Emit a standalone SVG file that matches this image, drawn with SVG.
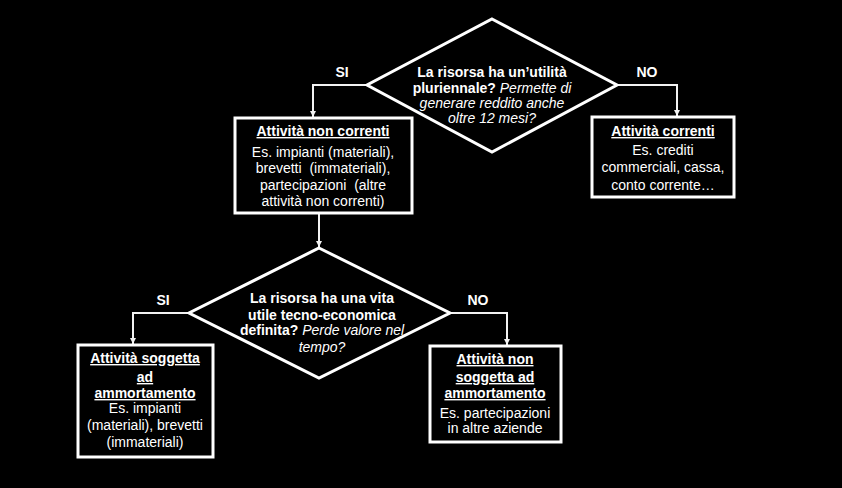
<svg xmlns="http://www.w3.org/2000/svg" width="842" height="488" viewBox="0 0 842 488">
<defs>
<style>
text{font-family:"Liberation Sans",Arial,sans-serif;font-size:14px;fill:#fff;text-anchor:middle;white-space:pre}
.b{font-weight:bold}
.i{font-style:italic}
.u{font-weight:bold;text-decoration:underline}
.shape{fill:#000;stroke:#fff;stroke-width:3}
.conn{fill:none;stroke:#f2f2f2;stroke-width:2}
</style>
<marker id="arr" viewBox="0 0 10 10" refX="10" refY="5" markerWidth="6" markerHeight="6" markerUnits="userSpaceOnUse" orient="auto">
<path d="M0,0 L10,5 L0,10 z" fill="#f2f2f2"/>
</marker>
</defs>
<rect width="842" height="488" fill="#000"/>
<g id="connectors">
<polyline class="conn" points="367,85 313,85 313,117" marker-end="url(#arr)"/>
<polyline class="conn" points="617,85 677,85 677,116" marker-end="url(#arr)"/>
<polyline class="conn" points="319,214 319,247" marker-end="url(#arr)"/>
<polyline class="conn" points="189,313 133,313 133,344" marker-end="url(#arr)"/>
<polyline class="conn" points="450,313 507,313 507,345" marker-end="url(#arr)"/>
<text class="b" x="342" y="77">SI</text>
<text class="b" x="647" y="77">NO</text>
<text class="b" x="163" y="305">SI</text>
<text class="b" x="478" y="305">NO</text>
</g>
<g id="q1">
<polygon class="shape" points="492,19 617,85 492,152 367,85"/>
<text x="492" y="77" class="b">La risorsa ha un’utilità</text>
<text x="492" y="93"><tspan class="b">pluriennale?</tspan><tspan class="i"> Permette di</tspan></text>
<text x="492" y="108" class="i">generare reddito anche</text>
<text x="492" y="123" class="i">oltre 12 mesi?</text>
</g>
<g id="noncorrenti">
<rect class="shape" x="235" y="118" width="177" height="95"/>
<text x="323" y="136" class="u">Attività non correnti</text>
<text x="323" y="157">Es. impianti (materiali),</text>
<text x="323" y="173">brevetti  (immateriali),</text>
<text x="323" y="190">partecipazioni  (altre</text>
<text x="323" y="206">attività non correnti)</text>
</g>
<g id="correnti">
<rect class="shape" x="592" y="117" width="142" height="80"/>
<text x="663" y="136" class="u">Attività correnti</text>
<text x="663" y="155">Es. crediti</text>
<text x="663" y="172">commerciali, cassa,</text>
<text x="663" y="190">conto corrente…</text>
</g>
<g id="q2">
<polygon class="shape" points="319,248 450,313 319,378 189,313"/>
<text x="322" y="303" class="b">La risorsa ha una vita</text>
<text x="322" y="320" class="b">utile tecno-economica</text>
<text x="322" y="335"><tspan class="b">definita?</tspan><tspan class="i"> Perde valore nel</tspan></text>
<text x="322" y="352" class="i">tempo?</text>
</g>
<g id="ammortamento">
<rect class="shape" x="78" y="345" width="135" height="112"/>
<text x="145" y="363" class="u">Attività soggetta</text>
<text x="145" y="382" class="u">ad</text>
<text x="145" y="398" class="u">ammortamento</text>
<text x="145" y="413">Es. impianti</text>
<text x="145" y="430">(materiali), brevetti</text>
<text x="145" y="447">(immateriali)</text>
</g>
<g id="nonammortamento">
<rect class="shape" x="430" y="346" width="131" height="96"/>
<text x="495" y="364" class="u">Attività non</text>
<text x="495" y="382" class="u">soggetta ad</text>
<text x="495" y="398" class="u">ammortamento</text>
<text x="495" y="418">Es. partecipazioni</text>
<text x="495" y="433">in altre aziende</text>
</g>
</svg>
